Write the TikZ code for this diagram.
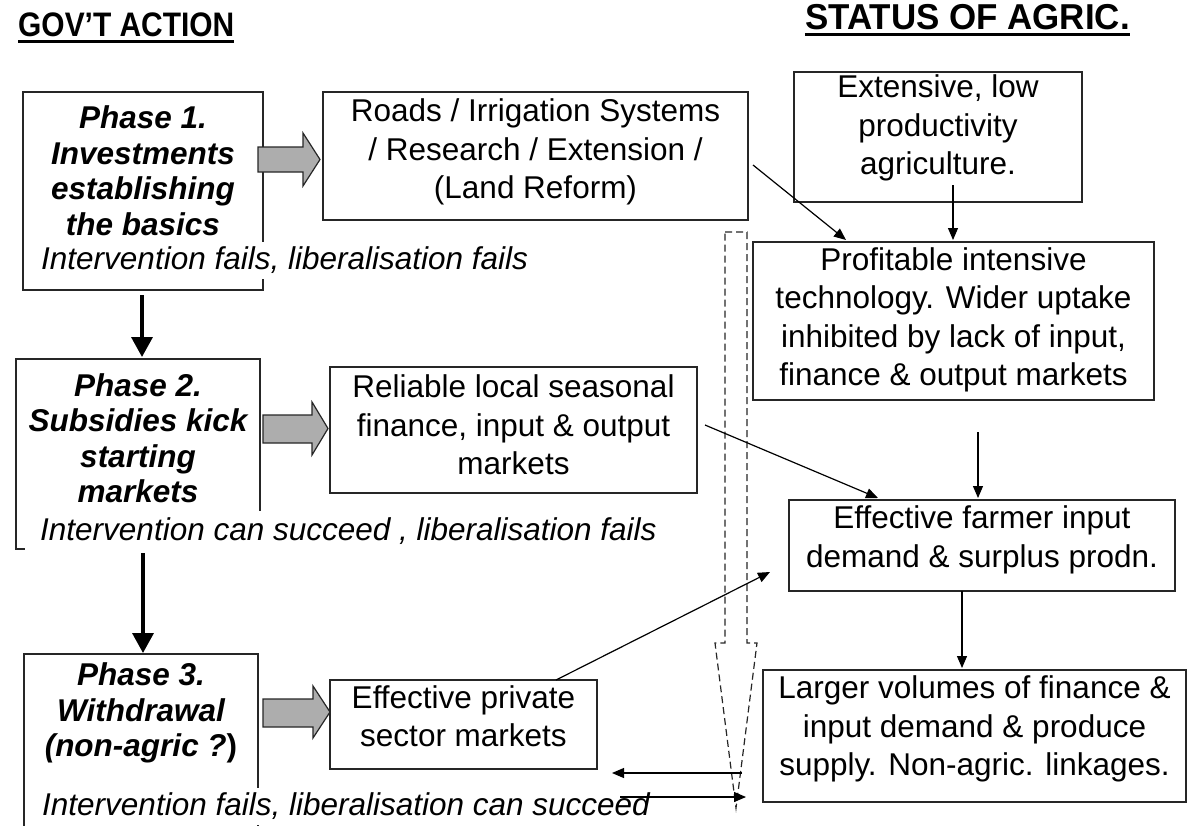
\documentclass[tikz,border=0pt]{standalone}
\usepackage{fontspec}
\setmainfont{Liberation Sans}
\newfontfamily\hdrA[FakeStretch=0.88]{Liberation Sans Bold}
\newfontfamily\hdrB[FakeStretch=0.97]{Liberation Sans Bold}
\usetikzlibrary{arrows.meta,calc}
\definecolor{bord}{gray}{0.15}
\definecolor{arrgray}{gray}{0.68}
\begin{document}
\begin{tikzpicture}[x=1pt,y=-1pt,
  box/.style={draw=bord, line width=1.4pt, inner sep=0pt},
  txt/.style={align=center, font=\fontsize{31.5}{38.5}\selectfont, inner sep=0pt},
  ph/.style={align=center, font=\fontsize{31.5}{35.5}\selectfont\bfseries\itshape, inner sep=0pt},
  note/.style={font=\fontsize{31.5}{36}\selectfont\itshape, fill=white, anchor=west, inner xsep=15pt, inner ysep=0pt, minimum height=37pt},
  con/.style={line width=1.2pt, -{Triangle[length=12pt,width=10pt]}},
  bigarr/.style={line width=3.5pt, -{Triangle[length=20pt,width=21pt]}},
  garrow/.style={draw=bord, line width=1.2pt, fill=arrgray},
  dasharr/.style={draw=bord, line width=1.2pt, dash pattern=on 7pt off 4pt}
]
\useasboundingbox (0,0) rectangle (1188,825);
\clip (0,0) rectangle (1188,825);

% headers
\node[font=\fontsize{34}{38}\hdrA, inner sep=0pt, anchor=base west] (gov) at (18,36) {GOV’T ACTION};
\node[font=\fontsize{36}{40}\hdrB, inner sep=0pt, anchor=base east] (stat) at (1130,29) {STATUS OF AGRIC.};
\draw[line width=3pt] ($(gov.base west)+(0,5)$) -- ($(gov.base east)+(0,5)$);
\draw[line width=3pt] ($(stat.base west)+(0,5)$) -- ($(stat.base east)+(0,5)$);

% boxes
\node[box, minimum width=240pt, minimum height=198pt] (p1) at (143,191) {};
\node[box, minimum width=425pt, minimum height=128pt] (roads) at (535.5,156) {};
\node[box, minimum width=288pt, minimum height=130pt] (ext) at (938,137) {};
\node[box, minimum width=401pt, minimum height=158pt] (prof) at (953.5,321) {};
\node[box, minimum width=244pt, minimum height=190pt] (p2) at (138,454) {};
\node[box, minimum width=367pt, minimum height=126pt] (rel) at (513.5,430) {};
\node[box, minimum width=386pt, minimum height=91pt] (farm) at (982,545.5) {};
\node[box, minimum width=234pt, minimum height=186pt] (p3) at (141,747) {};
\node[box, minimum width=267pt, minimum height=89pt] (priv) at (463.5,724.5) {};
\node[box, minimum width=423pt, minimum height=132pt] (larg) at (974.5,736) {};

% texts
\node[ph] (p1t) at (143,170.5) {Phase 1.\\Investments\\establishing\\the basics};
\node[ph] (p2t) at (138,438) {Phase 2.\\Subsidies kick\\starting\\markets};
\node[ph] (p3t) at (141,713) {Phase 3.\\Withdrawal\\(non-agric ?{\upshape)}};
\node[txt] (roadst) at (535.5,152) {Roads / Irrigation Systems\\/ Research / Extension /\\(Land Reform)};
\node[txt] (extt) at (938,128) {Extensive, low\\productivity\\agriculture.};
\node[txt] (proft) at (953.5,320) {Profitable intensive\\technology. Wider uptake\\inhibited by lack of input,\\finance \& output markets};
\node[txt] (relt) at (513.5,425) {Reliable local seasonal\\finance, input \& output\\markets};
\node[txt] (farmt) at (982,540) {Effective farmer input\\demand \& surplus prodn.};
\node[txt] (privt) at (463.5,716) {Effective private\\sector markets};
\node[txt] (largt) at (974.5,729) {Larger volumes of finance \&\\input demand \& produce\\supply. Non-agric. linkages.};

% notes
\node[note] (n1) at (26,260.5) {Intervention fails, liberalisation fails};
\node[note, minimum height=40pt] (n2) at (25,531) {Intervention can succeed , liberalisation fails};
\node[note] (n3) at (27,806) {Intervention fails, liberalisation can succeed};

% dashed big arrow
\draw[dasharr] (725,232) -- (747,232) -- (747,643) -- (757,643) -- (736,808) -- (715,643) -- (725,643) -- cycle;

% gray arrows
\draw[garrow] (258,147) -- (303,147) -- (303,133) -- (320,159.5) -- (303,186) -- (303,172) -- (258,172) -- cycle;
\draw[garrow] (263,415) -- (312,415) -- (312,402) -- (328,428.5) -- (312,455) -- (312,443) -- (263,443) -- cycle;
\draw[garrow] (263,699) -- (313,699) -- (313,686) -- (330,712) -- (313,738) -- (313,727) -- (263,727) -- cycle;

% thick phase arrows
\coordinate (a12s) at (142,295);
\coordinate (a12e) at (142,357);
\coordinate (a23s) at (143,553);
\coordinate (a23e) at (143,653);
\draw[bigarr] (a12s) -- (a12e);
\draw[bigarr] (a23s) -- (a23e);

% thin connectors
\coordinate (rp1) at (753,165);
\coordinate (rp2) at (846,240);
\draw[con] (rp1) -- (rp2);
\coordinate (ep1) at (953,185);
\coordinate (ep2) at (953,240);
\draw[con] (ep1) -- (ep2);
\coordinate (pf1) at (978,432);
\coordinate (pf2) at (978,498);
\draw[con] (pf1) -- (pf2);
\coordinate (rf1) at (705,425);
\coordinate (rf2) at (878,498);
\draw[con] (rf1) -- (rf2);
\coordinate (vf1) at (556,680);
\coordinate (vf2) at (770,572);
\draw[con] (vf1) -- (vf2);
\coordinate (fl1) at (962,591);
\coordinate (fl2) at (962,668);
\draw[con] (fl1) -- (fl2);
\coordinate (lp1) at (742,773);
\coordinate (lp2) at (612,773);
\draw[con] (lp1) -- (lp2);
\coordinate (pl1) at (620,797);
\coordinate (pl2) at (746,797);
\draw[con] (pl1) -- (pl2);
\end{tikzpicture}
\end{document}
